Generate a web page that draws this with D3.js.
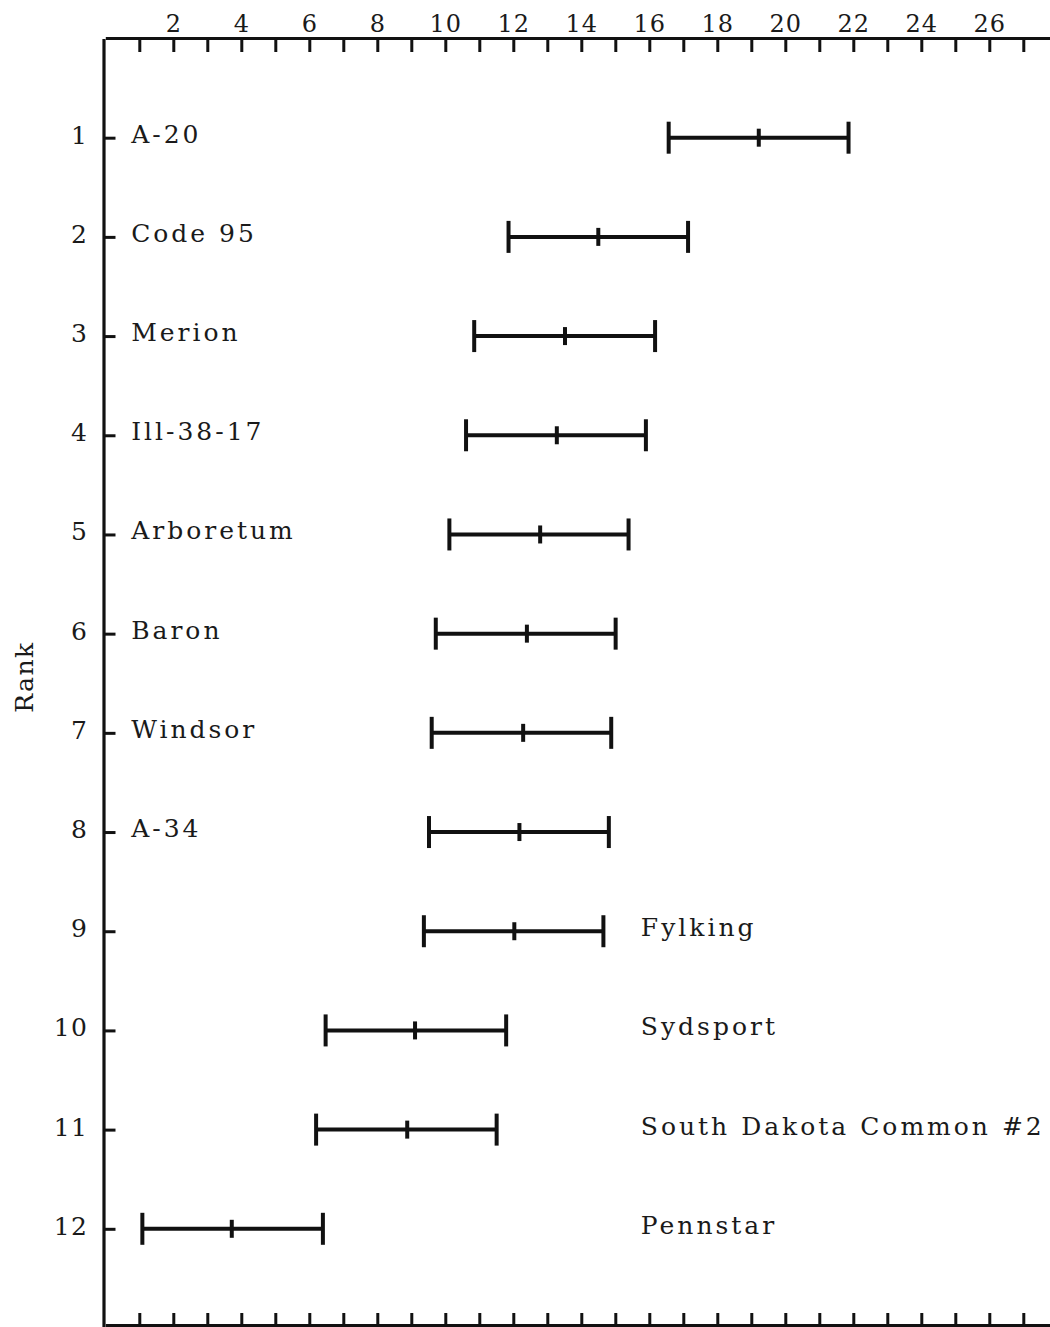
<!DOCTYPE html>
<html>
<head>
<meta charset="utf-8">
<script src="https://cdn.jsdelivr.net/npm/d3@7"></script>
<style>
  body { margin: 0; background: #fff; }
  svg { display: block; }
  text { font-family: "DejaVu Serif", "Liberation Serif", serif; fill: #1a1a1a; }
</style>
</head>
<body>
<div id="chart"></div>
<script>
// Ranks and variety names
const ranks = [1, 2, 3, 4, 5, 6, 7, 8, 9, 10, 11, 12];
const varieties = ["A-20", "Code 95", "Merion", "Ill-38-17", "Arboretum", "Baron",
  "Windsor", "A-34", "Fylking", "Sydsport", "South Dakota Common #2", "Pennstar"];
// which side of the chart the name is written on
const labelSide = ["left", "left", "left", "left", "left", "left",
  "left", "left", "right", "right", "right", "right"];

// interval: low end, centre mark, high end
const lowValues = [16.57, 11.86, 10.85, 10.61, 10.12, 9.72, 9.60, 9.52, 9.37, 6.48, 6.20, 1.09];
const meanValues = [19.22, 14.50, 13.52, 13.28, 12.79, 12.40, 12.29, 12.18, 12.03, 9.11, 8.88, 3.72];
const highValues = [21.86, 17.14, 16.17, 15.90, 15.39, 15.01, 14.88, 14.81, 14.65, 11.79, 11.51, 6.40];

// axis ticks
const xTicks = d3.range(1, 28);
const xTickLabels = [2, 4, 6, 8, 10, 12, 14, 16, 18, 20, 22, 24, 26];

const width = 1050;
const height = 1327;

const svg = d3
  .select("#chart")
  .append("svg")
  .attr("width", width)
  .attr("height", height);

const xScale = d3.scaleLinear().domain([0, 28]).range([105.3, 1057.3]);
const yScale = d3.scaleLinear().domain([0, 13]).range([38.5, 1328]);

// top axis, ticks pointing down into the plot
const topAxis = d3
  .axisTop(xScale)
  .tickValues(xTicks)
  .tickSizeInner(-14)
  .tickSizeOuter(0)
  .tickPadding(6)
  .tickFormat((d) => (xTickLabels.includes(d) ? d : ""));

const gTop = svg.append("g").attr("transform", `translate(0, 38)`).call(topAxis);

// bottom axis, ticks pointing up, no labels
const bottomAxis = d3
  .axisBottom(xScale)
  .tickValues(xTicks)
  .tickSizeInner(-12)
  .tickSizeOuter(0)
  .tickFormat("");

const gBottom = svg.append("g").attr("transform", `translate(0, 1325)`).call(bottomAxis);

// rank axis on the left
const leftAxis = d3
  .axisLeft(yScale)
  .tickValues(ranks)
  .tickSizeInner(-12)
  .tickSizeOuter(0)
  .tickPadding(15);

const gLeft = svg.append("g").attr("transform", `translate(103.5, 0)`).call(leftAxis);

[gTop, gBottom, gLeft].forEach((g) => {
  g.select(".domain").attr("stroke", "#111").attr("stroke-width", 3.2);
  g.selectAll(".tick line").attr("stroke", "#111").attr("stroke-width", 3);
});

gTop.selectAll(".tick text")
  .attr("font-size", "24px")
  .attr("font-family", "DejaVu Serif")
  .attr("letter-spacing", "1px")
  .attr("fill", "#1a1a1a");

gLeft.selectAll(".tick text")
  .attr("font-size", "25px")
  .attr("font-family", "DejaVu Serif")
  .attr("letter-spacing", "1.5px")
  .attr("dy", "0.22em")
  .attr("fill", "#1a1a1a");

// y axis title
svg.append("text")
  .attr("transform", `translate(33, 677) rotate(-90)`)
  .attr("text-anchor", "middle")
  .attr("font-size", "25px")
  .attr("letter-spacing", "1.5px")
  .text("Rank");

const rows = ranks.map((r, i) => ({
  rank: r,
  name: varieties[i],
  side: labelSide[i],
  low: lowValues[i],
  mean: meanValues[i],
  high: highValues[i],
}));

const bars = svg.append("g")
  .selectAll("g")
  .data(rows)
  .enter()
  .append("g")
  .attr("stroke", "#111")
  .attr("stroke-linecap", "butt");

// horizontal span
bars.append("line")
  .attr("x1", (d) => xScale(d.low))
  .attr("x2", (d) => xScale(d.high))
  .attr("y1", (d) => yScale(d.rank))
  .attr("y2", (d) => yScale(d.rank))
  .attr("stroke-width", 4);

// end caps
bars.selectAll(".cap")
  .data((d) => [{ v: d.low, r: d.rank }, { v: d.high, r: d.rank }])
  .enter()
  .append("line")
  .attr("class", "cap")
  .attr("x1", (d) => xScale(d.v))
  .attr("x2", (d) => xScale(d.v))
  .attr("y1", (d) => yScale(d.r) - 16)
  .attr("y2", (d) => yScale(d.r) + 16)
  .attr("stroke-width", 4);

// centre mark
bars.append("line")
  .attr("x1", (d) => xScale(d.mean))
  .attr("x2", (d) => xScale(d.mean))
  .attr("y1", (d) => yScale(d.rank) - 9)
  .attr("y2", (d) => yScale(d.rank) + 9)
  .attr("stroke-width", 4);

// variety names
svg.append("g")
  .selectAll("text")
  .data(rows)
  .enter()
  .append("text")
  .attr("x", (d) => (d.side === "left" ? xScale(0.76) : xScale(15.75)))
  .attr("y", (d) => yScale(d.rank) + 5)
  .attr("font-size", "25px")
  .attr("letter-spacing", "3px")
  .text((d) => d.name);
</script>
</body>
</html>
